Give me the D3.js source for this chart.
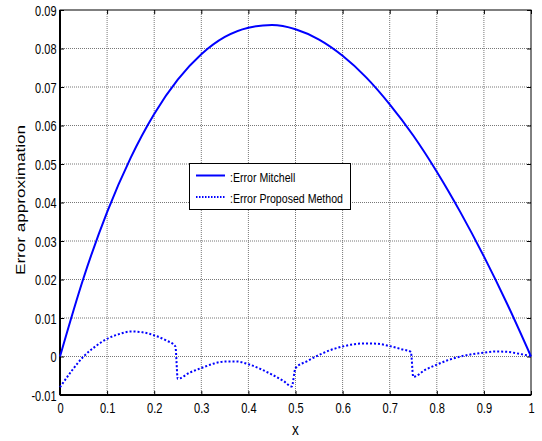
<head><meta charset="utf-8"></head>
<body>
  <script src="https://d3js.org/d3.v7.min.js"></script>

  <style>
    body { margin: 0; background: #fff; }
    text { font-family: "Liberation Sans", Arial, sans-serif; fill: #000; }
    .grid line { stroke: #777; stroke-width: 1; stroke-dasharray: 1,1; }
  </style>
  <script>

    // x positions of the Mitchell curve samples
    var xMitchell = [0, 0.05, 0.1, 0.15, 0.2, 0.25, 0.3, 0.35, 0.4, 0.45, 0.5,
                     0.55, 0.6, 0.65, 0.7, 0.75, 0.8, 0.85, 0.9, 0.95, 1];
    var errMitchell = [0, 0.0204, 0.0375, 0.0516, 0.0630, 0.0719, 0.0785, 0.0830, 0.0854, 0.0861, 0.0850,
                       0.0823, 0.0781, 0.0725, 0.0655, 0.0574, 0.0480, 0.0375, 0.0260, 0.0135, 0];

    // proposed method
    var xProposed = [0, 0.025, 0.05, 0.075, 0.1, 0.125, 0.15, 0.175, 0.2, 0.225, 0.245,
                     0.25, 0.275, 0.3, 0.325, 0.35, 0.375, 0.4, 0.425, 0.45, 0.475, 0.492,
                     0.5, 0.525, 0.55, 0.575, 0.6, 0.625, 0.65, 0.675, 0.7, 0.725, 0.745,
                     0.75, 0.775, 0.8, 0.825, 0.85, 0.875, 0.9, 0.925, 0.95, 0.975, 1];
    var errProposed = [-0.0080, -0.0037, 0.0000, 0.0026, 0.0046, 0.0058, 0.0065, 0.0063, 0.0055, 0.0042, 0.0026,
                       -0.0058, -0.0042, -0.0030, -0.0019, -0.0013, -0.0013, -0.0020, -0.0032, -0.0047, -0.0064, -0.0078,
                       -0.0030, -0.0012, 0.0004, 0.0017, 0.0026, 0.0032, 0.0034, 0.0033, 0.0027, 0.0019, 0.0012,
                       -0.0053, -0.0035, -0.0021, -0.0009, 0.0000, 0.0006, 0.0010, 0.0013, 0.0012, 0.0007, 0.0001];

    var xTicks = [0, 0.1, 0.2, 0.3, 0.4, 0.5, 0.6, 0.7, 0.8, 0.9, 1];
    var yTicks = [-0.01, 0, 0.01, 0.02, 0.03, 0.04, 0.05, 0.06, 0.07, 0.08, 0.09];
    var legendLabels = [":Error Mitchell", ":Error Proposed Method"];

    var margin = {top: 10, right: 11, bottom: 46, left: 60}
      , width = 542 - margin.left - margin.right
      , height = 441 - margin.top - margin.bottom;

    var svg = d3.select("body").append("svg")
      .attr("width", 542)
      .attr("height", 441)
      .append("g")
      .attr("transform", "translate(" + margin.left + "," + margin.top + ")");

    var x = d3.scaleLinear().domain([0, 1]).range([0, width]);
    var y = d3.scaleLinear().domain([-0.01, 0.09]).range([height, 0]);

    // grid
    var grid = svg.append("g").attr("class", "grid");
    grid.selectAll(".vx").data(xTicks.slice(1, -1)).enter().append("line")
      .attr("x1", d => x(d)).attr("x2", d => x(d))
      .attr("y1", 0).attr("y2", height);
    grid.selectAll(".hy").data(yTicks.slice(1, -1)).enter().append("line")
      .attr("x1", 0).attr("x2", width)
      .attr("y1", d => y(d)).attr("y2", d => y(d));

    // axes with inside ticks, mirrored on top and right
    function styleAxis(g) {
      g.select(".domain").remove();
      g.selectAll(".tick line").attr("stroke", "#000");
    }
    var fmt = d => (d === 0 ? "0" : d3.format(".2f")(d)).replace("\u2212", "-");

    var xAxis = svg.append("g")
      .attr("transform", "translate(0," + height + ")")
      .call(d3.axisBottom(x).tickValues(xTicks).tickSizeInner(-4).tickFormat(d => String(d)))
      .call(styleAxis);
    xAxis.selectAll(".tick text")
      .attr("y", 0).attr("dy", 0)
      .attr("transform", "translate(0,17.7) scale(0.74,1)")
      .style("font-size", "15px");

    var yAxis = svg.append("g")
      .call(d3.axisLeft(y).tickValues(yTicks).tickSizeInner(-4).tickFormat(fmt))
      .call(styleAxis);
    yAxis.selectAll(".tick text")
      .attr("x", 0).attr("dy", "0.36em")
      .attr("transform", "translate(-3.5,0) scale(0.76,1)")
      .style("font-size", "14.5px");

    svg.append("g")
      .call(d3.axisTop(x).tickValues(xTicks).tickSizeInner(-4).tickFormat(""))
      .call(styleAxis);
    svg.append("g")
      .attr("transform", "translate(" + width + ",0)")
      .call(d3.axisRight(y).tickValues(yTicks).tickSizeInner(-4).tickFormat(""))
      .call(styleAxis);

    // box
    svg.append("rect").attr("x", 0).attr("y", 0).attr("width", width).attr("height", height)
      .attr("fill", "none").attr("stroke", "#000").attr("stroke-width", 1);
    svg.append("line").attr("x1", 0).attr("x2", width).attr("y1", height).attr("y2", height)
      .attr("stroke", "#000").attr("stroke-width", 2);
    svg.append("line").attr("x1", 0).attr("x2", 0).attr("y1", 0).attr("y2", height)
      .attr("stroke", "#000").attr("stroke-width", 2);

    // curves
    var line = d3.line().x(d => x(d[0])).y(d => y(d[1])).curve(d3.curveMonotoneX);
    svg.append("path")
      .datum(d3.zip(xMitchell, errMitchell))
      .attr("d", line)
      .attr("fill", "none").attr("stroke", "#0000ff").attr("stroke-width", 2);
    svg.append("path")
      .datum(d3.zip(xProposed, errProposed))
      .attr("d", line)
      .attr("fill", "none").attr("stroke", "#0000ff").attr("stroke-width", 2)
      .attr("stroke-dasharray", "2,2");

    // legend
    var legend = svg.append("g").attr("transform", "translate(" + (189 - margin.left) + "," + (163 - margin.top) + ")");
    legend.append("rect").attr("x", 0.5).attr("y", 0.5).attr("width", 161).attr("height", 46)
      .attr("fill", "#fff").attr("stroke", "#000");
    legendLabels.forEach((lab, i) => {
      var ly = 12.5 + i * 21.5;
      legend.append("line").attr("x1", 7).attr("x2", 36).attr("y1", ly).attr("y2", ly)
        .attr("stroke", "#0000ff").attr("stroke-width", 2)
        .attr("stroke-dasharray", i === 1 ? "1.5,1.5" : null);
      legend.append("text")
        .attr("transform", "translate(41," + (ly + 6) + ") scale(0.815,1)")
        .style("font-size", "13px")
        .text(lab);
    });

    // axis titles
    svg.append("text")
      .attr("transform", "translate(" + (width / 2) + "," + (435 - margin.top) + ") scale(0.85,1)")
      .attr("text-anchor", "middle")
      .style("font-size", "16px")
      .text("x");
    svg.append("text")
      .attr("transform", "translate(" + (25 - margin.left) + "," + (200 - margin.top) + ") rotate(-90)")
      .attr("text-anchor", "middle")
      .attr("textLength", 150)
      .attr("lengthAdjust", "spacingAndGlyphs")
      .style("font-size", "12.5px")
      .text("Error approximation");

  </script>
</body>
